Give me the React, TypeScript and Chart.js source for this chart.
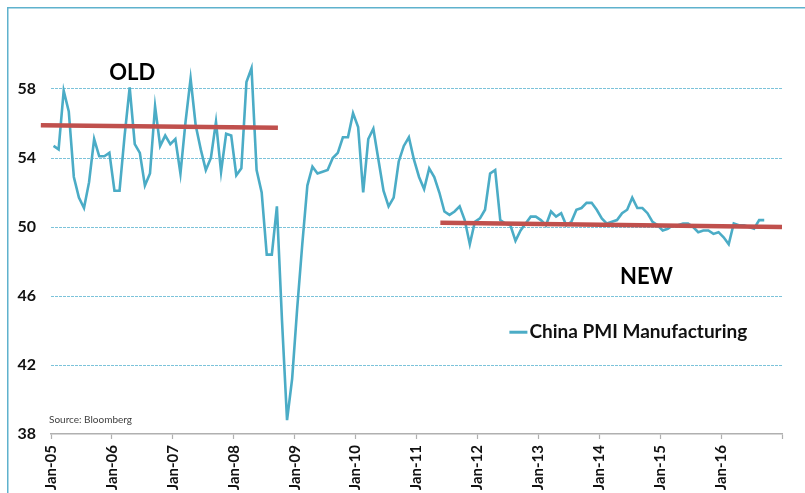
import React, { useEffect, useRef } from 'react';
import { Chart, registerables } from 'chart.js';

Chart.register(...registerables);

// China PMI Manufacturing, monthly, Jan-05 .. Sep-16
const pmi2005 = [54.7, 54.5, 57.9, 56.7, 52.9, 51.7, 51.1, 52.6, 55.1, 54.1, 54.1, 54.3];
const pmi2006 = [52.1, 52.1, 55.3, 58.1, 54.8, 54.3, 52.4, 53.1, 57.0, 54.7, 55.3, 54.8];
const pmi2007 = [55.1, 53.1, 56.1, 58.6, 55.9, 54.5, 53.3, 54.0, 56.1, 53.2, 55.4, 55.3];
const pmi2008 = [53.0, 53.4, 58.4, 59.2, 53.3, 52.0, 48.4, 48.4, 51.2, 44.6, 38.8, 41.2];
const pmi2009 = [45.3, 49.0, 52.4, 53.5, 53.1, 53.2, 53.3, 54.0, 54.3, 55.2, 55.2, 56.6];
const pmi2010 = [55.8, 52.0, 55.1, 55.7, 53.9, 52.1, 51.2, 51.7, 53.8, 54.7, 55.2, 53.9];
const pmi2011 = [52.9, 52.2, 53.4, 52.9, 52.0, 50.9, 50.7, 50.9, 51.2, 50.4, 49.0, 50.3];
const pmi2012 = [50.5, 51.0, 53.1, 53.3, 50.4, 50.2, 50.1, 49.2, 49.8, 50.2, 50.6, 50.6];
const pmi2013 = [50.4, 50.1, 50.9, 50.6, 50.8, 50.1, 50.3, 51.0, 51.1, 51.4, 51.4, 51.0];
const pmi2014 = [50.5, 50.2, 50.3, 50.4, 50.8, 51.0, 51.7, 51.1, 51.1, 50.8, 50.3, 50.1];
const pmi2015 = [49.8, 49.9, 50.1, 50.1, 50.2, 50.2, 50.0, 49.7, 49.8, 49.8, 49.6, 49.7];
const pmi2016 = [49.4, 49.0, 50.2, 50.1, 50.1, 50.0, 49.9, 50.4, 50.4];

const pmiValues = [
  ...pmi2005, ...pmi2006, ...pmi2007, ...pmi2008, ...pmi2009, ...pmi2010,
  ...pmi2011, ...pmi2012, ...pmi2013, ...pmi2014, ...pmi2015, ...pmi2016,
];

// x axis: months since Jan-05, a tick every 12 months
const xTickLabels = ['Jan-05', 'Jan-06', 'Jan-07', 'Jan-08', 'Jan-09', 'Jan-10', 'Jan-11', 'Jan-12', 'Jan-13', 'Jan-14', 'Jan-15', 'Jan-16', ''];
const yTickValues = [38, 42, 46, 50, 54, 58];

// "OLD" and "NEW" average lines (x in months since Jan-05)
const oldAvgX = [-2, 44.7];
const oldAvgY = [55.9, 55.75];
const newAvgX = [76.7, 144];
const newAvgY = [50.25, 50.0];

const seriesLabel = 'China PMI Manufacturing';
const sourceText = 'Source: Bloomberg';

const BLUE = '#4BACC6';
const RED = '#C0504D';
const FONT = 'Lato, "Open Sans", sans-serif';
const NARROW = '"Liberation Sans Narrow", Lato, sans-serif';

const overlayPlugin = {
  id: 'overlay',
  beforeDraw(chart: any) {
    const { ctx, width, height } = chart;
    ctx.save();
    ctx.strokeStyle = '#5FB2CD';
    ctx.lineWidth = 1.5;
    ctx.beginPath();
    ctx.moveTo(0.75, height);
    ctx.lineTo(0.75, 0.75);
    ctx.lineTo(width, 0.75);
    ctx.stroke();
    ctx.restore();
  },
  afterDatasetsDraw(chart: any) {
    const { ctx, chartArea } = chart;
    const x = chart.scales.x;
    const y = chart.scales.y;
    ctx.save();
    ctx.fillStyle = '#000';
    ctx.textAlign = 'center';
    ctx.textBaseline = 'middle';
    ctx.font = `bold 22px ${FONT}`;
    ctx.fillText('OLD', x.getPixelForValue(16), y.getPixelForValue(58.93));
    ctx.fillText('NEW', x.getPixelForValue(117.3), y.getPixelForValue(47.1));

    // legend
    const lx = x.getPixelForValue(90.3);
    const ly = y.getPixelForValue(43.9);
    ctx.strokeStyle = BLUE;
    ctx.lineWidth = 3;
    ctx.beginPath();
    ctx.moveTo(lx, ly);
    ctx.lineTo(lx + 18, ly);
    ctx.stroke();
    ctx.textAlign = 'left';
    ctx.font = `bold 19px ${FONT}`;
    ctx.fillStyle = '#111';
    ctx.fillText(seriesLabel, lx + 20, ly);

    // source
    ctx.font = `10px ${FONT}`;
    ctx.fillStyle = '#404040';
    ctx.fillText(sourceText, chartArea.left - 2, chartArea.bottom - 14);
    ctx.restore();
  },
};

const zeroPadding = (scale: any) => {
  scale.paddingTop = 0;
  scale.paddingBottom = 0;
  scale.paddingLeft = 0;
  scale.paddingRight = 0;
};

export default function App() {
  const canvasRef = useRef<HTMLCanvasElement | null>(null);

  useEffect(() => {
    const canvas = canvasRef.current;
    if (!canvas) return;
    const chart = new Chart(canvas, {
      type: 'line',
      data: {
        datasets: [
          {
            label: 'OLD',
            data: oldAvgX.map((v, i) => ({ x: v, y: oldAvgY[i] })),
            borderColor: RED,
            borderWidth: 4.5,
            pointRadius: 0,
            clip: false,
            order: 1,
          } as any,
          {
            label: 'NEW',
            data: newAvgX.map((v, i) => ({ x: v, y: newAvgY[i] })),
            borderColor: RED,
            borderWidth: 4.5,
            pointRadius: 0,
            clip: false,
            order: 1,
          } as any,
          {
            label: seriesLabel,
            data: pmiValues.map((v, i) => ({ x: i + 0.5, y: v })),
            borderColor: BLUE,
            borderWidth: 2.6,
            pointRadius: 0,
            tension: 0,
            order: 2,
          } as any,
        ],
      },
      options: {
        responsive: false,
        animation: false,
        layout: { padding: { left: 0, right: 23, top: 13, bottom: 0 } },
        plugins: {
          legend: { display: false },
          tooltip: { enabled: false },
        },
        scales: {
          x: {
            type: 'linear',
            min: 0,
            max: 144,
            afterBuildTicks: (scale: any) => {
              scale.ticks = xTickLabels.map((_, i) => ({ value: i * 12 }));
            },
            afterFit: (scale: any) => {
              scale.height = 103;
              zeroPadding(scale);
            },
            ticks: {
              autoSkip: false,
              minRotation: 90,
              maxRotation: 90,
              padding: 6,
              color: '#111',
              font: { family: NARROW, size: 15, weight: 'bold' },
              callback: (value: any) => xTickLabels[Math.round(Number(value) / 12)] ?? '',
            },
            grid: {
              drawOnChartArea: false,
              drawTicks: true,
              tickLength: 5,
              tickColor: '#B0B0B0',
              tickWidth: 1.2,
            },
            border: { display: true, color: '#B0B0B0', width: 1.5 },
          },
          y: {
            type: 'linear',
            min: 38,
            max: 62,
            afterBuildTicks: (scale: any) => {
              scale.ticks = yTickValues.map((v) => ({ value: v }));
            },
            afterFit: (scale: any) => {
              scale.width = 44;
              zeroPadding(scale);
            },
            ticks: {
              padding: 15,
              color: '#111',
              font: { family: NARROW, size: 16, weight: 'bold' },
            },
            grid: {
              drawTicks: false,
              lineWidth: 1,
              color: (ctx: any) => (ctx.tick && ctx.tick.value === 38 ? 'rgba(0,0,0,0)' : '#7CC3DA'),
            },
            border: { display: false, dash: [3, 1] },
          },
        },
      },
      plugins: [overlayPlugin],
    } as any);
    return () => chart.destroy();
  }, []);

  return (
    <div style={{ position: 'fixed', left: 7, top: 7, width: 798, height: 486, overflow: 'hidden', background: '#fff' }}>
      <canvas ref={canvasRef} width={798} height={530} style={{ display: 'block' }} />
    </div>
  );
}
